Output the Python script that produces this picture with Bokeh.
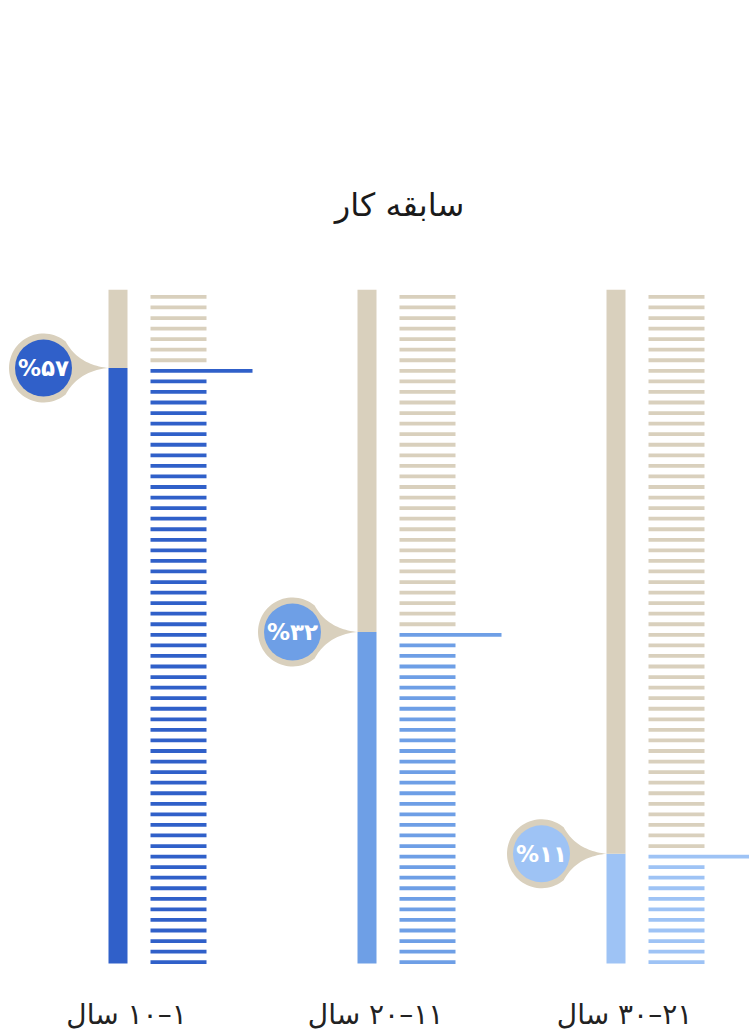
import math
from bokeh.plotting import figure
from bokeh.models import Range1d
from bokeh.core.properties import value
from bokeh.embed import file_html
from bokeh.resources import INLINE

# ---------------- data ----------------
title_text = "سابقه کار"
categories = ["۱–۱۰ سال", "۱۱–۲۰ سال", "۲۱–۳۰ سال"]
percents = [57, 32, 11]
percent_labels = ["%۵۷", "%۳۲", "%۱۱"]
colors = ["#3060c9", "#6e9fe6", "#9ec3f5"]
beige = "#d9d0bd"
scale_min = 0.6
scale_max = 64.4
n_stripes = 64

# ---------------- layout ----------------
W, H = 749, 1034
PX = 10.56          # pixels per percent unit
ZERO = 969.4        # screen y of the 0 value
bar_lefts = [108, 357, 606]
BAR_W = 19
STRIPE_L, STRIPE_R, HILITE_R = 42, 98, 144
STRIPE_H = 0.36
BUBBLE_DX = 65
R_OUT, R_IN = 34.5, 28.5
FONT = value("DejaVu Sans")


def py(screen_y):
    return (ZERO - screen_y) / PX


p = figure(width=W, height=H, output_backend="svg", toolbar_location=None,
           x_range=Range1d(0, W),
           y_range=Range1d(py(H), py(0)),
           min_border=0, x_axis_type=None, y_axis_type=None)
p.xgrid.visible = False
p.ygrid.visible = False
p.outline_line_color = None
p.background_fill_color = "white"
p.border_fill_color = "white"


def bezier(p0, p1, p2, n=24):
    pts = []
    for i in range(n + 1):
        t = i / n
        x = (1 - t) ** 2 * p0[0] + 2 * (1 - t) * t * p1[0] + t ** 2 * p2[0]
        y = (1 - t) ** 2 * p0[1] + 2 * (1 - t) * t * p1[1] + t ** 2 * p2[1]
        pts.append((x, y))
    return pts


def bubble_shape():
    a0 = math.radians(50)
    top = (R_OUT * math.cos(a0), R_OUT * math.sin(a0))
    bot = (top[0], -top[1])
    tip = (BUBBLE_DX, 0.0)
    pts = []
    for i in range(61):
        a = a0 + (2 * math.pi - 2 * a0) * i / 60
        pts.append((R_OUT * math.cos(a), R_OUT * math.sin(a)))
    pts += bezier(bot, (35, -3), tip)[1:]
    pts += bezier(tip, (35, 3), top)[1:]
    return pts


shape = bubble_shape()

for bl, pct, col, lab, cat in zip(bar_lefts, percents, colors, percent_labels, categories):
    # thermometer bar
    p.quad(left=[bl], right=[bl + BAR_W], bottom=[scale_min], top=[pct],
           fill_color=col, line_color=None)
    p.quad(left=[bl], right=[bl + BAR_W], bottom=[pct], top=[scale_max],
           fill_color=beige, line_color=None)

    # stripes
    lefts, rights, bottoms, tops, fills = [], [], [], [], []
    for n in range(1, n_stripes + 1):
        yc = n - 0.27
        lefts.append(bl + STRIPE_L)
        rights.append(bl + (HILITE_R if n == pct else STRIPE_R))
        bottoms.append(yc - STRIPE_H / 2)
        tops.append(yc + STRIPE_H / 2)
        fills.append(col if n <= pct else beige)
    p.quad(left=lefts, right=rights, bottom=bottoms, top=tops,
           fill_color=fills, line_color=None)

    # bubble
    cx = bl - BUBBLE_DX
    xs = [cx + dx for dx, dy in shape]
    ys = [pct + dy / PX for dx, dy in shape]
    p.patch(xs, ys, fill_color=beige, line_color=None)
    p.scatter(x=[cx], y=[pct], size=2 * R_IN, marker="circle",
              fill_color=col, line_color=None)
    p.text(x=[cx], y=[pct], text=[lab], text_align="center",
           text_baseline="middle", text_color="white",
           text_font=FONT, text_font_size="23px", text_font_style="bold")

    # category label (RLM prefix keeps the right-to-left order)
    p.text(x=[bl + 18], y=[py(1014)], text=["\u200f" + cat], text_align="center",
           text_baseline="middle", text_color="#222222",
           text_font=FONT, text_font_size="28px")

# title
p.text(x=[399], y=[py(204)], text=[title_text], text_align="center",
       text_baseline="middle", text_color="#1a1a1a",
       text_font=FONT, text_font_size="32px")

open("out.html", "w").write(file_html(p, INLINE))
